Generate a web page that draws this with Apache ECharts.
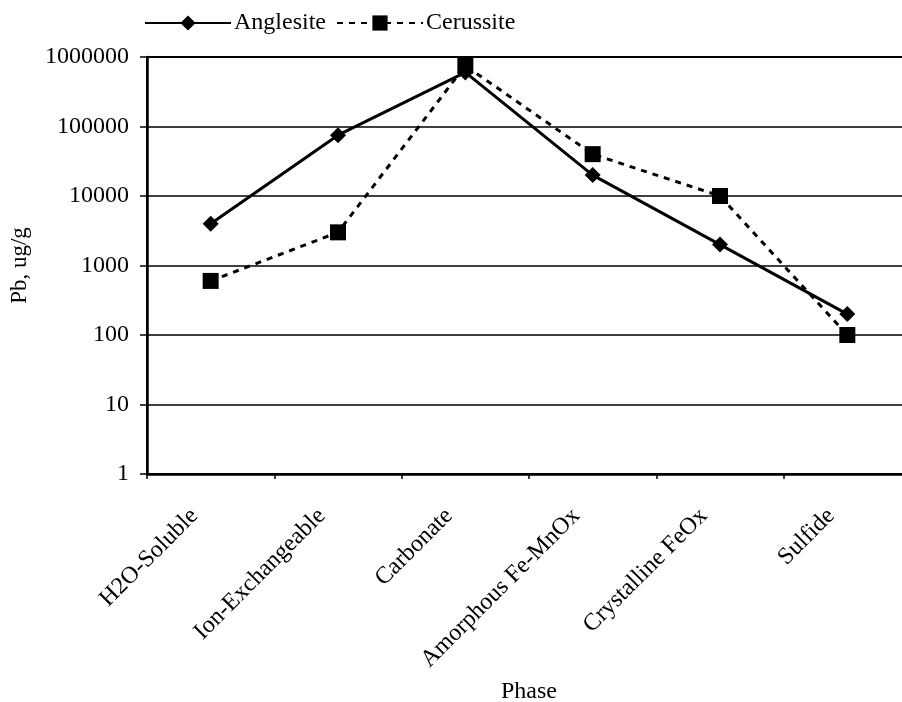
<!DOCTYPE html>
<html>
<head>
<meta charset="utf-8">
<script src="https://cdn.jsdelivr.net/npm/echarts@6/dist/echarts.min.js"></script>
<style>
  html, body { margin: 0; padding: 0; background: #fff; overflow: hidden; }
  #chart { width: 902px; height: 702px; }
</style>
</head>
<body>
<div id="chart"></div>
<script>
const phases = ['H2O-Soluble', 'Ion-Exchangeable', 'Carbonate', 'Amorphous Fe-MnOx', 'Crystalline FeOx', 'Sulfide'];
const anglesite = [4000, 75000, 600000, 20000, 2000, 200];
const cerussite = [600, 3000, 750000, 40000, 10000, 100];
const yTicks = [1, 10, 100, 1000, 10000, 100000, 1000000];

const font = 'Liberation Serif, Times New Roman, serif';

const chart = echarts.init(document.getElementById('chart'));

chart.setOption({
  animation: false,
  legend: {
    left: 139,
    top: 6,
    itemWidth: 86,
    itemHeight: 19,
    itemGap: 10,
    textStyle: { fontFamily: font, fontSize: 24, color: '#000', padding: [0, 0, 0, -2] },
    data: ['Anglesite', 'Cerussite']
  },
  grid: {
    left: 147, top: 57, width: 764, height: 417,
    outerBoundsMode: 'none',
    show: true, borderColor: '#000', borderWidth: 2
  },
  xAxis: {
    type: 'category',
    data: phases,
    name: 'Phase',
    nameLocation: 'middle',
    nameGap: 206,
    nameTextStyle: { fontFamily: font, fontSize: 24, color: '#000' },
    axisLine: { lineStyle: { color: '#000', width: 2.5 } },
    axisTick: { show: true, length: 5, lineStyle: { color: '#000', width: 1.5 } },
    axisLabel: { rotate: 45, margin: 22, padding: [0, 23, 0, 0], fontFamily: font, fontSize: 24, color: '#000' }
  },
  yAxis: {
    type: 'log',
    logBase: 10,
    min: yTicks[0],
    max: yTicks[yTicks.length - 1],
    name: 'Pb, ug/g',
    nameLocation: 'middle',
    nameGap: 116,
    nameTextStyle: { fontFamily: font, fontSize: 23, color: '#000' },
    axisLine: { show: true, lineStyle: { color: '#000', width: 2.5 } },
    axisTick: { show: true, length: 7, lineStyle: { color: '#000', width: 1.5 } },
    axisLabel: {
      margin: 18,
      fontFamily: font,
      fontSize: 24,
      color: '#000',
      formatter: (v) => String(yTicks.find(t => Math.abs(t - v) < t * 1e-6) ?? Math.round(v))
    },
    splitLine: { show: true, lineStyle: { color: '#000', width: 1.5 } }
  },
  series: [
    {
      name: 'Anglesite',
      type: 'line',
      data: anglesite,
      symbol: 'diamond',
      symbolSize: 16,
      itemStyle: { color: '#000' },
      lineStyle: { color: '#000', width: 3 },
      z: 3
    },
    {
      name: 'Cerussite',
      type: 'line',
      data: cerussite,
      symbol: 'rect',
      symbolSize: 16,
      itemStyle: { color: '#000' },
      lineStyle: { color: '#000', width: 3, type: [6, 6] },
      z: 2
    }
  ]
});
</script>
</body>
</html>
